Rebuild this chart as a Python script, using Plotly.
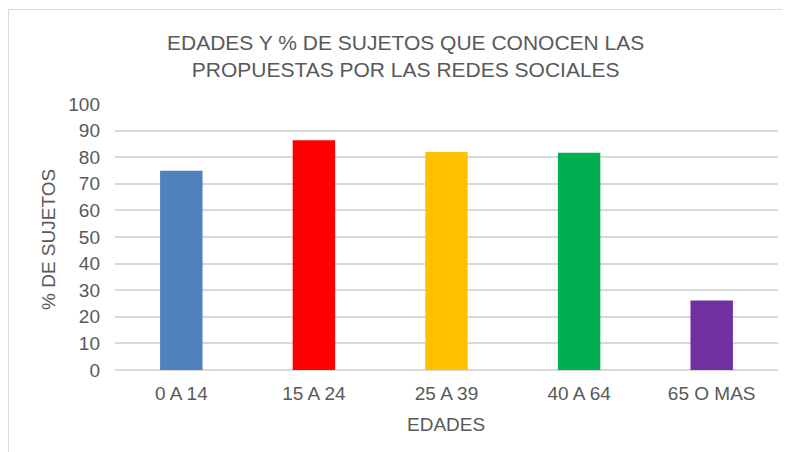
import plotly.graph_objects as go

categories = ["0 A 14", "15 A 24", "25 A 39", "40 A 64", "65 O MAS"]
values = [74.9, 86.4, 82.0, 81.7, 26.1]
colors = ["#4F81BD", "#FF0000", "#FFC000", "#00B050", "#7030A0"]
y_ticks = [0, 10, 20, 30, 40, 50, 60, 70, 80, 90, 100]

title_text = "EDADES Y % DE SUJETOS QUE CONOCEN LAS<br>PROPUESTAS POR LAS REDES SOCIALES"
x_title = "EDADES"
y_title = "% DE SUJETOS"

txt = "#595959"
font = "Liberation Sans, Arial, sans-serif"

# page body adds an 8px offset; figure is sized so the plot lands at screen px 115..778 x 104..370
OFF = 8
W, H = 790 - OFF, 452 - OFF
L, T, R, B = 115 - OFF, 104 - OFF, 12, 82
PW, PH = W - L - R, H - T - B


def px(xs):
    return (xs - OFF - L) / PW


def py(ys):
    return (H - B - (ys - OFF)) / PH


fig = go.Figure(go.Bar(x=categories, y=values, marker=dict(color=colors, line=dict(width=0))))

fig.update_layout(
    width=W, height=H,
    margin=dict(l=L, r=R, t=T, b=B, autoexpand=False),
    paper_bgcolor="white", plot_bgcolor="white",
    bargap=0.68,
    showlegend=False,
    font=dict(family=font, color=txt, size=19),
    xaxis=dict(showgrid=False, showline=False, ticks="", tickfont=dict(size=19, color=txt),
               ticklabelstandoff=10),
    yaxis=dict(range=[0, 100], tickvals=y_ticks, showgrid=True, gridcolor="#D9D9D9", gridwidth=1.5,
               zeroline=True, zerolinecolor="#D9D9D9", zerolinewidth=1.5, showline=False, ticks="",
               tickfont=dict(size=19, color=txt), ticklabelstandoff=14),
    annotations=[
        dict(text=title_text, xref="paper", yref="paper", x=px(405), y=py(56.5),
             xanchor="center", yanchor="middle", showarrow=False,
             font=dict(size=21, color=txt, family=font)),
        dict(text=x_title, xref="paper", yref="paper", x=px(446), y=py(424),
             xanchor="center", yanchor="middle", showarrow=False,
             font=dict(size=19, color=txt, family=font)),
        dict(text=y_title, xref="paper", yref="paper", x=px(48), y=py(240),
             xanchor="center", yanchor="middle", showarrow=False, textangle=-90,
             font=dict(size=19, color=txt, family=font)),
    ],
    shapes=[
        dict(type="rect", xref="paper", yref="paper",
             x0=px(8.5), x1=px(830),
             y0=py(480), y1=py(9.5),
             line=dict(color="#D9D9D9", width=1), fillcolor="rgba(0,0,0,0)", layer="below"),
    ],
)

fig.write_html("out.html")
